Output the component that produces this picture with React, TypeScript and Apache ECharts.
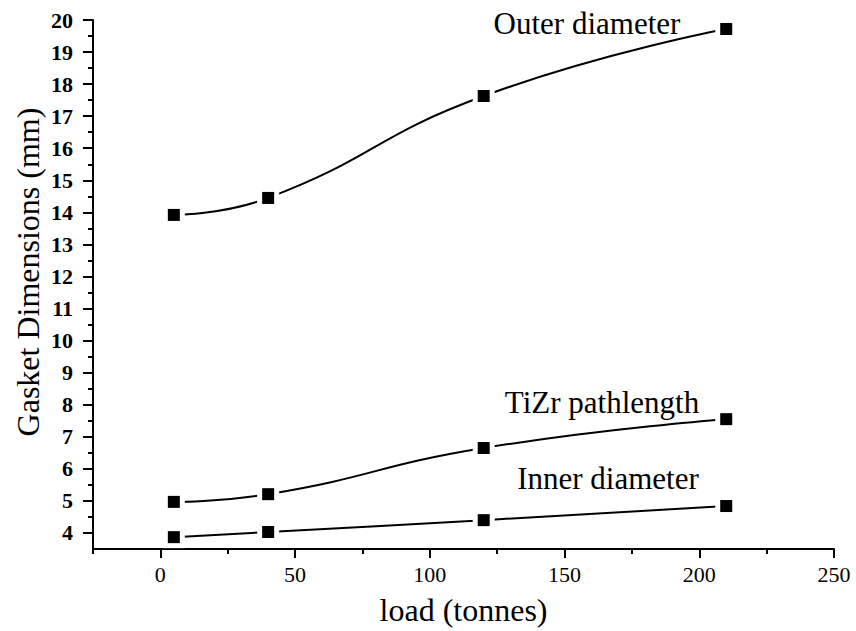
import React, { useEffect, useRef } from "react";
import * as echarts from "echarts";

// Load applied to the gasket (tonnes)
const loads = [5, 40, 120, 210];

// Measured gasket dimensions (mm) at each load
const outerDiameter = [13.92, 14.45, 17.63, 19.72];
const tizrPathlength = [4.97, 5.21, 6.65, 7.55];
const innerDiameter = [3.87, 4.03, 4.4, 4.84];

// Tick positions
const xMajorTicks = [0, 50, 100, 150, 200, 250];
const xMinorTicks = [-25, 25, 75, 125, 175, 225];
const yMajorTicks = [4, 5, 6, 7, 8, 9, 10, 11, 12, 13, 14, 15, 16, 17, 18, 19, 20];
const yMinorTicks = [4.5, 5.5, 6.5, 7.5, 8.5, 9.5, 10.5, 11.5, 12.5, 13.5, 14.5, 15.5, 16.5, 17.5, 18.5, 19.5];

const FONT = "Liberation Serif";

const curves = [
  { name: "Outer diameter", values: outerDiameter },
  { name: "TiZr pathlength", values: tizrPathlength },
  { name: "Inner diameter", values: innerDiameter },
];

export default function App() {
  const ref = useRef<HTMLDivElement>(null);

  useEffect(() => {
    if (!ref.current) return;
    const chart = echarts.init(ref.current, null, { renderer: "svg" });

    const lineSeries = curves.map((c) => ({
      name: c.name,
      type: "line",
      data: loads.map((x, i) => [x, c.values[i]]),
      smooth: 0.5,
      showSymbol: false,
      lineStyle: { color: "#000", width: 2 },
      z: 2,
      silent: true,
    }));

    const allPoints = curves.flatMap((c) => loads.map((x, i) => [x, c.values[i]]));

    const labelText = (text: string, x: number, y: number) => ({
      type: "text",
      x,
      y,
      style: {
        text,
        fontFamily: FONT,
        fontSize: 31,
        fill: "#000",
        align: "center",
        verticalAlign: "middle",
      },
    });

    const option = {
      animation: false,
      backgroundColor: "#fff",
      textStyle: { fontFamily: FONT },
      grid: { left: 93, right: 22, top: 20, bottom: 82 },
      xAxis: [
        {
          type: "value",
          min: -25,
          max: 250,
          position: "bottom",
          splitLine: { show: false },
          axisLine: { onZero: false, lineStyle: { color: "#000", width: 2 } },
          axisTick: { customValues: xMajorTicks, length: 9, lineStyle: { color: "#000", width: 2 } },
          axisLabel: {
            customValues: xMajorTicks,
            margin: 14,
            color: "#000",
            fontFamily: FONT,
            fontSize: 22,
          },
          name: "load (tonnes)",
          nameLocation: "middle",
          nameGap: 45,
          nameTextStyle: { color: "#000", fontFamily: FONT, fontSize: 32 },
        },
        {
          type: "value",
          min: -25,
          max: 250,
          position: "bottom",
          splitLine: { show: false },
          axisLine: { show: false, onZero: false },
          axisTick: { customValues: xMinorTicks, length: 5, lineStyle: { color: "#000", width: 2 } },
          axisLabel: { show: false },
        },
      ],
      yAxis: [
        {
          type: "value",
          min: 3.5,
          max: 20,
          position: "left",
          splitLine: { show: false },
          axisLine: { onZero: false, lineStyle: { color: "#000", width: 2 } },
          axisTick: { customValues: yMajorTicks, length: 10, lineStyle: { color: "#000", width: 2 } },
          axisLabel: {
            customValues: yMajorTicks,
            margin: 20,
            color: "#000",
            fontFamily: FONT,
            fontSize: 22,
            fontWeight: "bold",
          },
        },
        {
          type: "value",
          min: 3.5,
          max: 20,
          position: "left",
          splitLine: { show: false },
          axisLine: { show: false, onZero: false },
          axisTick: { customValues: yMinorTicks, length: 5, lineStyle: { color: "#000", width: 2 } },
          axisLabel: { show: false },
        },
      ],
      series: [
        ...lineSeries,
        // white halo so the curves stop short of each marker
        {
          type: "scatter",
          data: allPoints,
          symbol: "rect",
          symbolSize: 22,
          itemStyle: { color: "#fff", opacity: 1 },
          z: 3,
          silent: true,
        },
        {
          type: "scatter",
          data: allPoints,
          symbol: "rect",
          symbolSize: 12,
          itemStyle: { color: "#000", opacity: 1 },
          z: 4,
          silent: true,
        },
      ],
      graphic: [
        {
          type: "text",
          x: 28,
          y: 272,
          rotation: Math.PI / 2,
          style: {
            text: "Gasket Dimensions (mm)",
            fontFamily: FONT,
            fontSize: 32,
            fill: "#000",
            align: "center",
            verticalAlign: "middle",
          },
        },
        labelText("Outer diameter", 587, 23),
        labelText("TiZr pathlength", 602, 402),
        labelText("Inner diameter", 608, 478),
      ],
    };

    chart.setOption(option as any);
    return () => chart.dispose();
  }, []);

  return (
    <div
      ref={ref}
      style={{ position: "fixed", left: 0, top: 0, width: 856, height: 631 }}
    />
  );
}
